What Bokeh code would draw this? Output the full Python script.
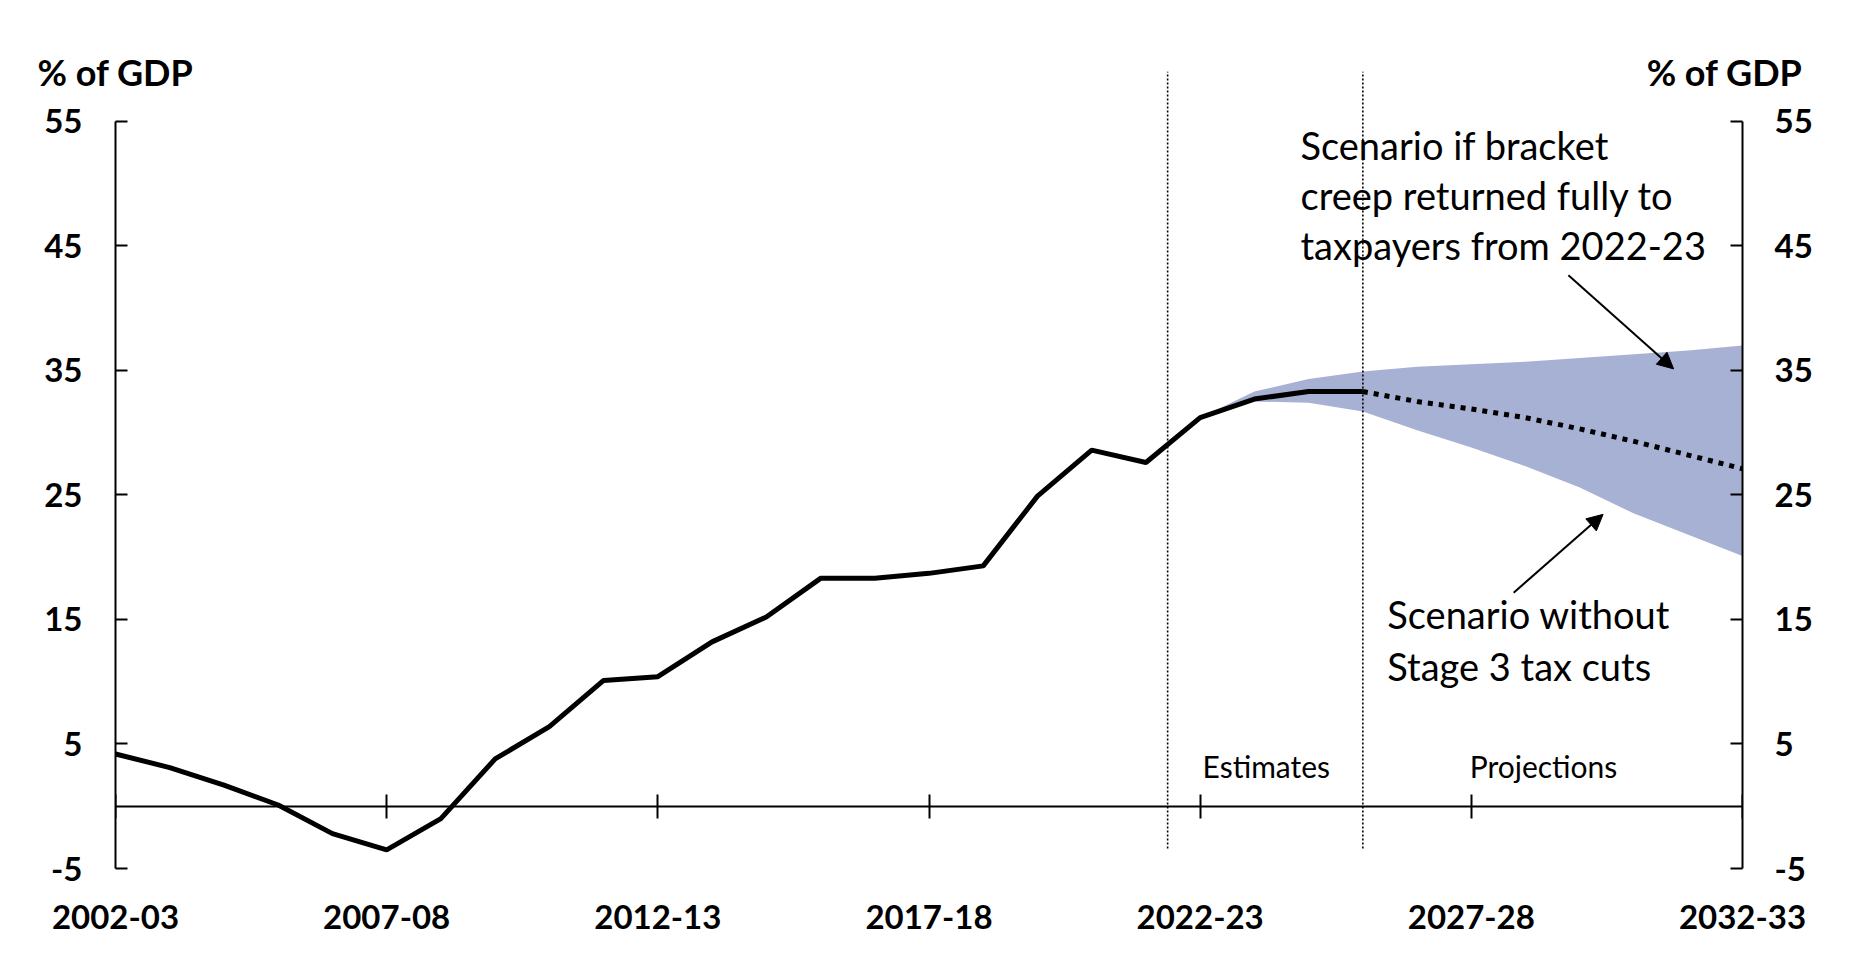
from bokeh.plotting import figure
from bokeh.models import (Range1d, LinearAxis, FixedTicker, Label, Arrow, NormalHead,
                          CustomJSTickFormatter)
from bokeh.embed import file_html
from bokeh.resources import INLINE

# ---------------- data ----------------
years = ["2002-03", "2003-04", "2004-05", "2005-06", "2006-07", "2007-08", "2008-09",
         "2009-10", "2010-11", "2011-12", "2012-13", "2013-14", "2014-15", "2015-16",
         "2016-17", "2017-18", "2018-19", "2019-20", "2020-21", "2021-22", "2022-23",
         "2023-24", "2024-25", "2025-26", "2026-27", "2027-28", "2028-29", "2029-30",
         "2030-31", "2031-32", "2032-33"]
tick_years = ["2002-03", "2007-08", "2012-13", "2017-18", "2022-23", "2027-28", "2032-33"]

# historical / estimates series, % of GDP (2002-03 .. 2025-26)
actual = [4.2, 3.1, 1.7, 0.1, -2.2, -3.5, -1.0, 3.8, 6.4, 10.1, 10.4, 13.2, 15.2, 18.3,
          18.3, 18.7, 19.3, 24.9, 28.6, 27.6, 31.2, 32.7, 33.3, 33.3]
# projection baseline (2025-26 .. 2032-33)
proj_years = ["2025-26", "2026-27", "2027-28", "2028-29", "2029-30", "2030-31", "2031-32", "2032-33"]
projection = [33.3, 32.5, 31.9, 31.2, 30.3, 29.3, 28.2, 27.1]
# scenario band (2022-23 .. 2032-33)
band_years = ["2022-23", "2023-24", "2024-25", "2025-26", "2026-27", "2027-28", "2028-29",
              "2029-30", "2030-31", "2031-32", "2032-33"]
band_upper = [31.2, 33.3, 34.3, 34.9, 35.3, 35.5, 35.7, 36.0, 36.3, 36.6, 37.0]
band_lower = [31.2, 32.5, 32.4, 31.7, 30.2, 28.8, 27.3, 25.6, 23.5, 21.8, 20.1]

y_ticks = [-5, 5, 15, 25, 35, 45, 55]
period_breaks = [19.4, 23.0]   # start of estimates, start of projections (year index)
unit_label = "% of GDP"

# ---------------- figure ----------------
FONT = "Lato"
idx = {y: i for i, y in enumerate(years)}
x_actual = [idx[y] for y in years[:len(actual)]]
x_proj = [idx[y] for y in proj_years]
x_band = [idx[y] for y in band_years]
x_ticks = [idx[y] for y in tick_years]

p = figure(width=1850, height=958, output_backend="svg", toolbar_location=None,
           x_axis_type=None, y_axis_type=None,
           x_range=Range1d(0, len(years) - 1), y_range=Range1d(-5, 59),
           min_border_left=115, min_border_right=108, min_border_top=71, min_border_bottom=90)
p.outline_line_color = None
p.background_fill_color = "white"
p.border_fill_color = "white"

# band
p.varea(x=x_band, y1=band_lower, y2=band_upper, fill_color="#a7b1d3")

# period separators
p.segment(x0=period_breaks, x1=period_breaks, y0=[-3.4] * len(period_breaks),
          y1=[59] * len(period_breaks), line_color="black", line_width=1.6, line_dash="2 2")

# lines
p.line(x_actual, actual, line_color="black", line_width=5)
p.line(x_proj, projection, line_color="black", line_width=5, line_dash="5 6", line_cap="butt")

# axes
def style_labels(ax, size="33px"):
    ax.major_label_text_font = FONT
    ax.major_label_text_font_style = "bold"
    ax.major_label_text_font_size = size
    ax.major_label_text_color = "black"

y_overrides = {v: str(v) for v in y_ticks}

left = LinearAxis(ticker=FixedTicker(ticks=y_ticks), bounds=(-5, 55),
                  major_label_overrides=y_overrides)
left.axis_line_width = 2
left.major_tick_line_width = 2
left.major_tick_in = 12
left.major_tick_out = 0
left.minor_tick_line_color = None
left.major_label_standoff = 33
style_labels(left)
p.add_layout(left, "left")

right = LinearAxis(ticker=FixedTicker(ticks=y_ticks), bounds=(-5, 55),
                   major_label_overrides=y_overrides)
right.axis_line_width = 2
right.major_tick_line_width = 2
right.major_tick_in = 12
right.major_tick_out = 0
right.minor_tick_line_color = None
right.major_label_standoff = 32
style_labels(right)
p.add_layout(right, "right")

bottom = LinearAxis(ticker=FixedTicker(ticks=x_ticks),
                    major_label_overrides={i: years[i] for i in x_ticks})
bottom.axis_line_color = None
bottom.major_tick_line_color = None
bottom.minor_tick_line_color = None
bottom.major_label_standoff = 30
style_labels(bottom)
p.add_layout(bottom, "below")

# unit titles "% of GDP": labels of a guide-only axis in the top panel
titles = LinearAxis(ticker=FixedTicker(ticks=[0, 29.67]),
                    formatter=CustomJSTickFormatter(code="return '%s';" % unit_label))
titles.axis_line_color = None
titles.major_tick_line_color = None
titles.minor_tick_line_color = None
titles.major_tick_out = 0
titles.major_tick_in = 0
titles.major_label_standoff = -22
titles.major_label_text_font = FONT
titles.major_label_text_font_style = "bold"
titles.major_label_text_font_size = "36px"
titles.major_label_text_color = "black"
p.add_layout(titles, "above")

zero = LinearAxis(ticker=FixedTicker(ticks=x_ticks), fixed_location=0)
zero.axis_line_width = 2
zero.major_tick_line_width = 2
zero.major_tick_in = 12
zero.major_tick_out = 12
zero.minor_tick_line_color = None
zero.major_label_text_alpha = 0
zero.major_label_text_font_size = "1px"
zero.major_label_standoff = 0
p.add_layout(zero, "above")

# annotations
upper_lines = ["Scenario if bracket", "creep returned fully to", "taxpayers from 2022-23"]
for t, yy in zip(upper_lines, [53.06, 49.05, 45.03]):
    p.add_layout(Label(x=21.85, y=yy, text=t, text_font=FONT, text_font_size="38px",
                       text_align="left", text_baseline="middle", text_color="black"))
lower_lines = ["Scenario without", "Stage 3 tax cuts"]
for t, yy in zip(lower_lines, [15.4, 11.3]):
    p.add_layout(Label(x=23.45, y=yy, text=t, text_font=FONT, text_font_size="38px",
                       text_align="left", text_baseline="middle", text_color="black"))
for t, xx in (("Estimates", 21.22), ("Projections", 26.33)):
    p.add_layout(Label(x=xx, y=3.25, text=t, text_font=FONT, text_font_size="30px",
                       text_align="center", text_baseline="middle", text_color="black"))

p.add_layout(Arrow(end=NormalHead(size=16, fill_color="black", line_color="black"),
                   x_start=26.79, y_start=42.63, x_end=28.73, y_end=35.12,
                   line_width=2, line_color="black"))
p.add_layout(Arrow(end=NormalHead(size=16, fill_color="black", line_color="black"),
                   x_start=25.78, y_start=17.14, x_end=27.43, y_end=23.44,
                   line_width=2, line_color="black"))

open("out.html", "w").write(file_html(p, INLINE))
